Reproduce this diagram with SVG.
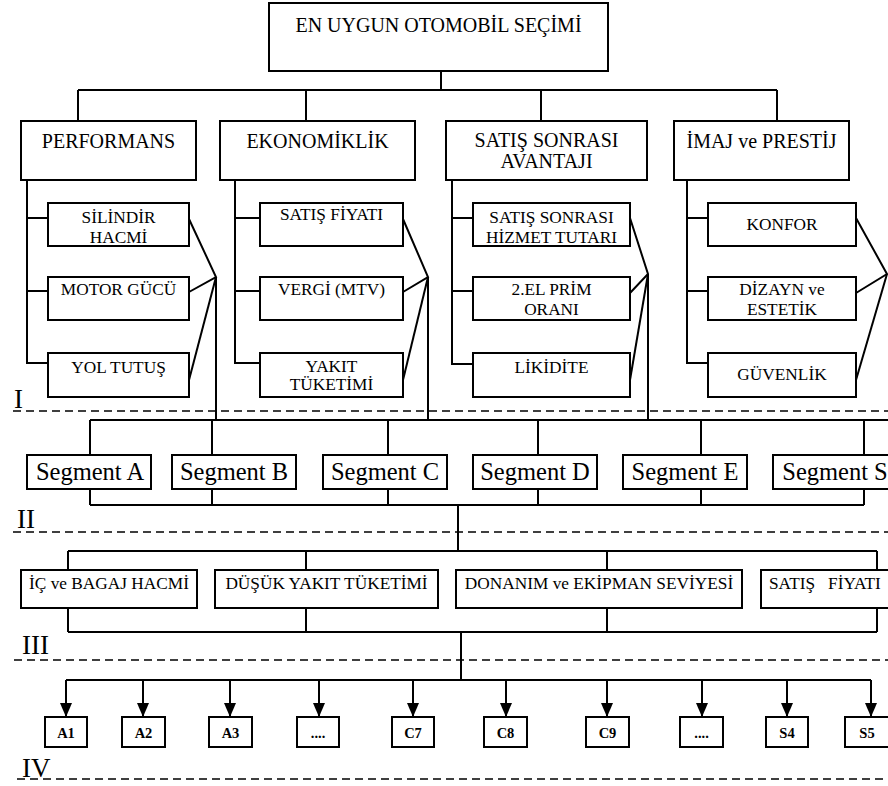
<svg xmlns="http://www.w3.org/2000/svg" width="888" height="786" viewBox="0 0 888 786">
<style>
rect.b{fill:#fff;stroke:#000;stroke-width:2}
.c line,.c polyline,.c path{stroke:#000;stroke-width:2;fill:none}
.d{stroke:#000;stroke-width:1.5;stroke-dasharray:8 5}
text{font-family:"Liberation Serif","Times New Roman",serif;fill:#000;text-anchor:middle}
.t20{font-size:20px}
.t17{font-size:17.3px}
.t24{font-size:24.5px}
.tb{font-size:14.5px;font-weight:bold}
.lv{font-size:27px;text-anchor:start}
</style>
<defs>
<marker id="arr" viewBox="0 0 14 12" refX="14" refY="6" markerWidth="14" markerHeight="12" markerUnits="userSpaceOnUse" orient="auto">
<path d="M0,0 L14,6 L0,12 z" fill="#000"/>
</marker>
</defs>
<rect width="888" height="786" fill="#fff"/>

<g id="levels">
<line class="d" x1="13" y1="411" x2="888" y2="411"/>
<line class="d" x1="13" y1="532" x2="888" y2="532"/>
<line class="d" x1="14" y1="660" x2="888" y2="660"/>
<line class="d" x1="17" y1="779" x2="888" y2="779"/>
<text class="lv" x="14" y="408">I</text>
<text class="lv" x="17" y="528">II</text>
<text class="lv" x="22" y="654">III</text>
<text class="lv" x="22" y="777">IV</text>
</g>

<g class="c" id="connectors">
<!-- top -->
<line x1="441" y1="71" x2="441" y2="90"/>
<line x1="78" y1="90" x2="777" y2="90"/>
<line x1="78" y1="90" x2="78" y2="121"/>
<line x1="306" y1="90" x2="306" y2="121"/>
<line x1="541" y1="90" x2="541" y2="121"/>
<line x1="777" y1="90" x2="777" y2="121"/>
<!-- performans -->
<polyline points="27,180 27,363 48,363"/>
<line x1="27" y1="218" x2="48" y2="218"/>
<line x1="27" y1="291" x2="48" y2="291"/>
<polyline points="189,219 216,277 189,292"/>
<line x1="189" y1="380" x2="216" y2="277"/>
<line x1="216" y1="277" x2="216" y2="420"/>
<!-- ekonomiklik -->
<polyline points="235,180 235,363 260,363"/>
<line x1="235" y1="218" x2="260" y2="218"/>
<line x1="235" y1="291" x2="260" y2="291"/>
<polyline points="403,219 428,277 403,292"/>
<line x1="403" y1="380" x2="428" y2="277"/>
<line x1="428" y1="277" x2="428" y2="420"/>
<!-- satis sonrasi -->
<polyline points="452,180 452,364 473,364"/>
<line x1="452" y1="218" x2="473" y2="218"/>
<line x1="452" y1="291" x2="473" y2="291"/>
<polyline points="630,218 648,274 630,293"/>
<line x1="630" y1="380" x2="648" y2="274"/>
<line x1="648" y1="274" x2="648" y2="420"/>
<!-- imaj -->
<polyline points="687,180 687,363 708,363"/>
<line x1="687" y1="218" x2="708" y2="218"/>
<line x1="687" y1="291" x2="708" y2="291"/>
<polyline points="856,218 887,274 856,293"/>
<line x1="856" y1="380" x2="887" y2="274"/>
<!-- segments -->
<line x1="90" y1="420" x2="888" y2="420"/>
<line x1="90" y1="420" x2="90" y2="455"/>
<line x1="212" y1="420" x2="212" y2="455"/>
<line x1="388" y1="420" x2="388" y2="455"/>
<line x1="538" y1="420" x2="538" y2="455"/>
<line x1="701" y1="420" x2="701" y2="455"/>
<line x1="864" y1="420" x2="864" y2="455"/>
<line x1="90" y1="489" x2="90" y2="505"/>
<line x1="212" y1="489" x2="212" y2="505"/>
<line x1="388" y1="489" x2="388" y2="505"/>
<line x1="538" y1="489" x2="538" y2="505"/>
<line x1="701" y1="489" x2="701" y2="505"/>
<line x1="864" y1="489" x2="864" y2="505"/>
<line x1="90" y1="505" x2="864" y2="505"/>
<line x1="458" y1="505" x2="458" y2="551"/>
<!-- row III -->
<line x1="68" y1="551" x2="877" y2="551"/>
<line x1="68" y1="551" x2="68" y2="570"/>
<line x1="306" y1="551" x2="306" y2="570"/>
<line x1="607" y1="551" x2="607" y2="570"/>
<line x1="877" y1="551" x2="877" y2="570"/>
<line x1="68" y1="608" x2="68" y2="632"/>
<line x1="306" y1="608" x2="306" y2="632"/>
<line x1="607" y1="608" x2="607" y2="632"/>
<line x1="877" y1="608" x2="877" y2="632"/>
<line x1="68" y1="632" x2="877" y2="632"/>
<line x1="461" y1="632" x2="461" y2="680"/>
<!-- row IV -->
<line x1="66" y1="680" x2="871" y2="680"/>
<line x1="66" y1="680" x2="66" y2="717" marker-end="url(#arr)"/>
<line x1="143" y1="680" x2="143" y2="717" marker-end="url(#arr)"/>
<line x1="230" y1="680" x2="230" y2="717" marker-end="url(#arr)"/>
<line x1="319" y1="680" x2="319" y2="717" marker-end="url(#arr)"/>
<line x1="413" y1="680" x2="413" y2="717" marker-end="url(#arr)"/>
<line x1="506" y1="680" x2="506" y2="717" marker-end="url(#arr)"/>
<line x1="607" y1="680" x2="607" y2="717" marker-end="url(#arr)"/>
<line x1="702" y1="680" x2="702" y2="717" marker-end="url(#arr)"/>
<line x1="787" y1="680" x2="787" y2="717" marker-end="url(#arr)"/>
<line x1="871" y1="680" x2="871" y2="717" marker-end="url(#arr)"/>
</g>

<g id="goal"><rect class="b" x="269" y="3" width="339" height="68"/><text class="t20" x="438.5" y="32">EN UYGUN OTOMOBİL SEÇİMİ</text></g>

<g id="performans"><rect class="b" x="21" y="121" width="175" height="59"/><text class="t20" x="108.5" y="148">PERFORMANS</text></g>
<g id="ekonomiklik"><rect class="b" x="220" y="121" width="195" height="59"/><text class="t20" x="317.5" y="148">EKONOMİKLİK</text></g>
<g id="satis-sonrasi"><rect class="b" x="446" y="121" width="201" height="59"/><text class="t20" x="546.5" y="147">SATIŞ SONRASI</text><text class="t20" x="546.5" y="168">AVANTAJI</text></g>
<g id="imaj"><rect class="b" x="674" y="121" width="175" height="59"/><text class="t20" x="761.5" y="148">İMAJ ve PRESTİJ</text></g>

<g id="silindir"><rect class="b" x="48" y="203" width="141" height="43"/><text class="t17" x="118.5" y="223">SİLİNDİR</text><text class="t17" x="118.5" y="243">HACMİ</text></g>
<g id="motor"><rect class="b" x="48" y="277" width="141" height="43"/><text class="t17" x="118.5" y="295">MOTOR GÜCÜ</text></g>
<g id="yol"><rect class="b" x="48" y="353" width="141" height="44"/><text class="t17" x="118.5" y="373">YOL TUTUŞ</text></g>

<g id="satis-fiyati"><rect class="b" x="260" y="203" width="143" height="43"/><text class="t17" x="331.5" y="220">SATIŞ FİYATI</text></g>
<g id="vergi"><rect class="b" x="260" y="277" width="143" height="43"/><text class="t17" x="331.5" y="295">VERGİ (MTV)</text></g>
<g id="yakit"><rect class="b" x="260" y="353" width="143" height="44"/><text class="t17" x="331.5" y="372">YAKIT</text><text class="t17" x="331.5" y="390">TÜKETİMİ</text></g>

<g id="hizmet"><rect class="b" x="473" y="203" width="157" height="43"/><text class="t17" x="551.5" y="223">SATIŞ SONRASI</text><text class="t17" x="551.5" y="243">HİZMET TUTARI</text></g>
<g id="ikinci-el"><rect class="b" x="473" y="277" width="157" height="43"/><text class="t17" x="551.5" y="295">2.EL PRİM</text><text class="t17" x="551.5" y="315">ORANI</text></g>
<g id="likidite"><rect class="b" x="473" y="353" width="157" height="44"/><text class="t17" x="551.5" y="373">LİKİDİTE</text></g>

<g id="konfor"><rect class="b" x="708" y="203" width="148" height="43"/><text class="t17" x="782" y="230">KONFOR</text></g>
<g id="dizayn"><rect class="b" x="708" y="277" width="148" height="43"/><text class="t17" x="782" y="295">DİZAYN ve</text><text class="t17" x="782" y="315">ESTETİK</text></g>
<g id="guvenlik"><rect class="b" x="708" y="353" width="148" height="44"/><text class="t17" x="782" y="380">GÜVENLİK</text></g>

<g id="seg-a"><rect class="b" x="27" y="455" width="124" height="34"/><text class="t24" x="90" y="480">Segment A</text></g>
<g id="seg-b"><rect class="b" x="172" y="455" width="124" height="34"/><text class="t24" x="234" y="480">Segment B</text></g>
<g id="seg-c"><rect class="b" x="323" y="455" width="124" height="34"/><text class="t24" x="385" y="480">Segment C</text></g>
<g id="seg-d"><rect class="b" x="473" y="455" width="124" height="34"/><text class="t24" x="535" y="480">Segment D</text></g>
<g id="seg-e"><rect class="b" x="623" y="455" width="124" height="34"/><text class="t24" x="685" y="480">Segment E</text></g>
<g id="seg-s"><rect class="b" x="773" y="455" width="124" height="34"/><text class="t24" x="835" y="480">Segment S</text></g>

<g id="ic-bagaj"><rect class="b" x="21" y="570" width="176" height="38"/><text class="t17" x="109" y="589">İÇ ve BAGAJ HACMİ</text></g>
<g id="dusuk-yakit"><rect class="b" x="215" y="570" width="223" height="38"/><text class="t17" x="326.5" y="589">DÜŞÜK YAKIT TÜKETİMİ</text></g>
<g id="donanim"><rect class="b" x="456" y="570" width="286" height="38"/><text class="t17" x="599" y="589">DONANIM ve EKİPMAN SEVİYESİ</text></g>
<g id="satis-fiyati-2"><rect class="b" x="761" y="570" width="140" height="38"/><text class="t17" x="769" y="589" style="text-anchor:start" xml:space="preserve">SATIŞ   FİYATI</text></g>

<g id="a1"><rect class="b" x="45" y="717" width="42" height="30"/><text class="tb" x="66" y="738">A1</text></g>
<g id="a2"><rect class="b" x="122" y="717" width="43" height="30"/><text class="tb" x="143.5" y="738">A2</text></g>
<g id="a3"><rect class="b" x="209" y="717" width="43" height="30"/><text class="tb" x="230.5" y="738">A3</text></g>
<g id="dots1"><rect class="b" x="297" y="717" width="42" height="30"/><text class="tb" x="318" y="738">....</text></g>
<g id="c7"><rect class="b" x="392" y="717" width="42" height="30"/><text class="tb" x="413" y="738">C7</text></g>
<g id="c8"><rect class="b" x="484" y="717" width="43" height="30"/><text class="tb" x="505.5" y="738">C8</text></g>
<g id="c9"><rect class="b" x="586" y="717" width="43" height="30"/><text class="tb" x="607.5" y="738">C9</text></g>
<g id="dots2"><rect class="b" x="680" y="717" width="43" height="30"/><text class="tb" x="701.5" y="738">....</text></g>
<g id="s4"><rect class="b" x="766" y="717" width="42" height="30"/><text class="tb" x="787" y="738">S4</text></g>
<g id="s5"><rect class="b" x="845" y="717" width="45" height="30"/><text class="tb" x="867" y="738">S5</text></g>
</svg>
